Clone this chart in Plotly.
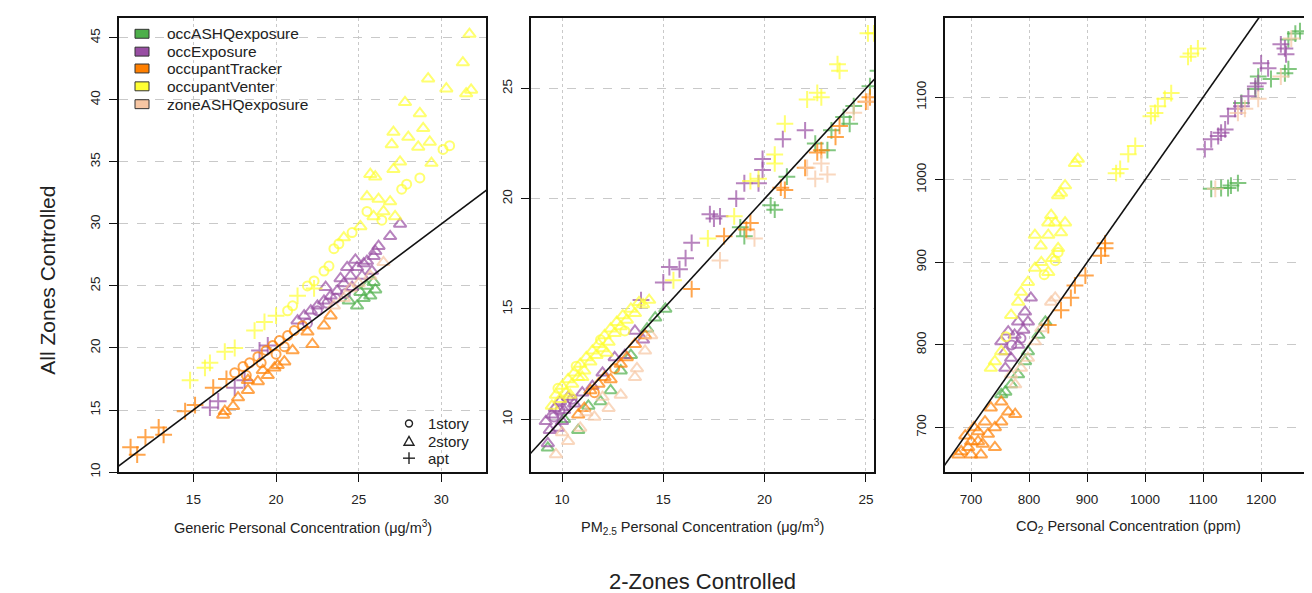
import plotly.graph_objects as go

# ---------------- DATA ----------------
series_names = ["occASHQexposure", "occExposure", "occupantTracker", "occupantVenter", "zoneASHQexposure"]
series_colors = ["#4DAF4A", "#984EA3", "#FF7F00", "#FFFF33", "#F7C6A3"]
shape_names = ["1story", "2story", "apt"]

x_titles = ["Generic Personal Concentration (\u03bcg/m<sup>3</sup>)",
            "PM<sub>2.5</sub> Personal Concentration (\u03bcg/m<sup>3</sup>)",
            "CO<sub>2</sub> Personal Concentration (ppm)"]
y_title = "All Zones Controlled"
x_super_title = "2-Zones Controlled"

gen_xticks = [15, 20, 25, 30]
gen_yticks = [10, 15, 20, 25, 30, 35, 40, 45]
pm_xticks = [10, 15, 20, 25]
pm_yticks = [10, 15, 20, 25]
co2_xticks = [700, 800, 900, 1000, 1100, 1200]
co2_yticks = [700, 800, 900, 1000, 1100]

# Generic panel  (c = 1story, t = 2story, p = apt)
gen_occashq_x = [25.5, 25.1, 25.3, 24.9, 25.9, 24.4, 25.7, 26.0]
gen_occashq_y = [25.0, 24.5, 24.0, 23.4, 25.3, 23.8, 24.2, 24.7]
gen_occashq_s = ["t"] * 8

gen_occexp_x = [27.5, 26.9, 26.2, 25.9, 25.5, 25.3, 24.9, 24.5, 24.1, 23.7, 23.3, 22.9, 22.5, 22.1, 21.7, 21.3,
                24.3, 25.2, 24.6, 25.8, 26.0, 23.9, 24.8, 23.0,
                21.9, 22.5, 23.1, 23.6, 24.2,
                19.5, 17.5, 16.5, 16.0, 18.1, 19.0]
gen_occexp_y = [30.0, 29.0, 28.2, 27.4, 27.0, 26.8, 26.5, 25.8, 25.2, 24.6, 24.2, 23.8, 23.4, 23.0, 22.6, 22.2,
                26.5, 25.8, 24.9, 26.2, 27.8, 25.6, 27.1, 24.9,
                22.0, 23.0, 23.6, 24.0, 24.4,
                20.2, 16.8, 15.7, 15.2, 17.4, 19.8]
gen_occexp_s = ["t"] * 24 + ["c"] * 5 + ["p"] * 6

gen_tracker_x = [11.2, 11.6, 12.1, 12.9, 13.2, 14.5, 15.1, 16.2, 17.0,
                 16.8, 17.7, 18.3, 18.9, 19.5, 19.9, 20.5, 21.9, 22.9, 23.3, 18.3, 19.2, 20.1, 21.0, 22.2, 17.4, 16.9,
                 17.5, 18.0, 18.4, 18.9, 19.4, 19.8, 20.2, 20.7, 21.1, 21.6, 18.2, 19.1, 20.0, 20.5]
gen_tracker_y = [12.0, 11.4, 12.8, 13.6, 13.0, 14.9, 15.4, 16.8, 17.5,
                 14.6, 16.0, 16.6, 17.3, 17.8, 18.4, 18.9, 21.3, 21.8, 22.6, 17.4, 18.2, 18.6, 19.8, 20.3, 15.3, 14.9,
                 18.0, 18.5, 18.8, 19.3, 19.8, 20.2, 20.6, 21.0, 21.4, 21.8, 17.8, 18.8, 19.5, 20.1]
gen_tracker_s = ["p"] * 9 + ["t"] * 17 + ["c"] * 14

gen_venter_x = [31.7, 31.3, 29.2, 30.3, 31.5, 31.8, 27.8, 28.7, 28.9, 27.1, 27.0, 28.6, 29.3, 29.4, 25.7, 27.1,
                25.5, 26.2, 26.9, 25.9, 26.5, 27.2, 25.1, 24.1, 28.0, 26.0, 27.5,
                30.1, 30.5, 28.7, 27.6, 27.9, 23.5, 23.8, 22.9, 23.2, 21.9, 22.3, 20.7, 21.0, 25.5, 26.4, 24.6,
                21.3, 19.3, 18.7, 17.5, 16.9, 16.0, 15.7, 14.8, 20.0, 22.3]
gen_venter_y = [45.3, 43.0, 41.7, 40.9, 40.5, 40.8, 39.8, 38.9, 37.7, 37.4, 36.4, 36.2, 36.6, 34.9, 34.0, 34.4,
                32.2, 32.0, 31.8, 30.6, 31.0, 30.6, 29.8, 28.9, 37.0, 33.8, 35.0,
                36.0, 36.3, 33.7, 32.8, 33.2, 28.0, 28.4, 26.2, 26.6, 25.0, 25.4, 23.0, 23.4, 31.0, 30.3, 29.3,
                24.2, 22.1, 21.4, 20.0, 19.7, 18.8, 18.4, 17.4, 22.6, 24.8]
gen_venter_s = ["t"] * 27 + ["c"] * 16 + ["p"] * 10

gen_zoneashq_x = [26.5, 25.7, 24.5, 24.1, 25.0, 23.5]
gen_zoneashq_y = [26.9, 25.8, 24.8, 24.0, 25.2, 23.4]
gen_zoneashq_s = ["t"] * 6

# PM2.5 panel
pm_occashq_x = [25.2, 24.4, 24.2, 23.9, 23.3, 22.5, 23.1, 21.1, 20.3, 20.5, 18.8, 19.0, 25.6,
                15.1, 14.6, 14.2, 12.4, 11.9, 10.8, 9.3, 13.4, 10.1, 12.9, 11.3]
pm_occashq_y = [25.1, 24.2, 23.4, 23.7, 23.1, 22.5, 22.2, 21.0, 19.7, 19.5, 18.7, 18.3, 25.8,
                15.0, 14.6, 14.1, 11.3, 10.8, 9.5, 8.7, 12.9, 10.0, 12.2, 10.6]
pm_occashq_s = ["p"] * 13 + ["t"] * 11

pm_occexp_x = [22.0, 20.9, 19.9, 19.9, 19.0, 19.7, 18.6, 17.3, 17.5, 17.8, 16.4, 16.1, 15.3, 15.8, 15.0, 13.9,
               9.2, 9.65, 10.1, 9.8, 9.3, 10.6, 12.6, 13.1, 13.6, 14.0, 9.5, 9.9, 10.3, 9.4, 10.0, 11.0, 11.5, 12.0,
               9.6, 9.9, 10.2, 10.5]
pm_occexp_y = [23.1, 22.7, 21.8, 21.3, 20.7, 20.7, 20.0, 19.3, 19.1, 19.2, 18.0, 17.3, 16.9, 16.8, 16.2, 15.4,
               9.9, 10.5, 10.4, 9.6, 8.9, 10.7, 12.8, 12.9, 14.0, 13.6, 10.2, 10.8, 11.0, 9.5, 9.9, 11.2, 11.5, 12.1,
               10.1, 10.4, 10.6, 10.9]
pm_occexp_s = ["p"] * 16 + ["t"] * 18 + ["c"] * 4

pm_tracker_x = [23.7, 23.5, 22.8, 22.6, 22.0, 20.8, 21.0, 19.3, 19.1, 25.2, 25.0, 16.4, 18.0,
                11.1, 11.8, 12.1, 12.9, 13.6, 14.1, 10.8, 11.4, 12.4, 13.2,
                11.6, 12.6]
pm_tracker_y = [23.3, 22.8, 22.2, 22.1, 21.4, 20.5, 20.4, 18.9, 18.6, 24.6, 24.4, 15.9, 18.3,
                10.5, 11.6, 11.9, 12.5, 13.4, 13.8, 10.2, 11.3, 11.8, 12.8,
                11.2, 12.3]
pm_tracker_s = ["p"] * 13 + ["t"] * 10 + ["c"] * 2

pm_venter_x = [25.1, 25.4, 23.6, 23.7, 22.6, 22.1, 22.8, 21.0, 20.5, 20.5, 19.7, 19.3, 18.5, 17.2, 15.5,
               9.5, 9.7, 9.9, 10.0, 10.2, 10.3, 10.5, 10.6, 10.8, 10.9, 11.1, 11.2, 11.4, 11.5, 11.7, 11.8,
               12.0, 12.1, 12.3, 12.4, 12.6, 12.7, 12.9, 13.0, 13.2, 13.4, 13.6, 13.8, 14.0, 14.3, 11.0, 12.2, 10.4,
               9.8, 10.7, 11.9, 13.1]
pm_venter_y = [27.5, 27.5, 26.1, 25.8, 24.8, 24.5, 24.6, 23.4, 22.0, 21.6, 20.9, 20.8, 19.2, 18.2, 16.3,
               10.6, 11.1, 10.9, 11.5, 11.2, 11.8, 11.6, 12.1, 11.9, 12.5, 12.2, 12.8, 12.6, 13.1, 12.9, 13.4,
               13.2, 13.8, 13.5, 14.1, 13.9, 14.4, 14.2, 14.7, 14.5, 15.0, 14.8, 15.3, 15.2, 15.4, 11.9, 13.0, 11.1,
               11.4, 12.4, 13.6, 14.0]
pm_venter_s = ["p"] * 15 + ["t"] * 33 + ["c"] * 4

pm_zoneashq_x = [25.1, 24.4, 22.8, 22.5, 23.1, 22.1, 19.5, 17.8,
                 9.7, 10.3, 10.9, 11.6, 12.3, 12.9, 13.6, 13.7, 14.1, 14.4, 10.0, 11.2, 12.0]
pm_zoneashq_y = [24.4, 23.9, 21.6, 20.9, 21.1, 21.4, 18.2, 17.2,
                 8.4, 9.0, 9.6, 10.1, 10.5, 11.1, 11.9, 12.3, 13.1, 13.8, 9.4, 10.3, 11.0]
pm_zoneashq_s = ["p"] * 8 + ["t"] * 13

# CO2 panel
co2_occashq_x = [1259, 1267, 1247, 1247, 1241, 1217, 1195, 1190, 1166, 1114, 1131, 1148, 1160, 1143,
                 759, 769, 752, 781, 793, 798, 816, 828]
co2_occashq_y = [1177, 1180, 1170, 1134, 1129, 1122, 1125, 1110, 1093, 989, 990, 993, 996, 990,
                 743, 752, 740, 764, 780, 792, 812, 828]
co2_occashq_s = ["p"] * 14 + ["t"] * 8

co2_occexp_x = [803, 793, 781, 764, 752, 759, 769, 759, 781, 798, 775, 790,
                770, 786,
                1103, 1114, 1126, 1138, 1131, 1143, 1155, 1166, 1178, 1190, 1195, 1200, 1212, 1234, 1243, 1241]
co2_occexp_y = [857, 840, 828, 816, 804, 792, 784, 772, 800, 828, 812, 818,
                800, 808,
                1037, 1049, 1053, 1061, 1057, 1077, 1086, 1089, 1101, 1113, 1117, 1141, 1135, 1164, 1152, 1159]
co2_occexp_s = ["t"] * 12 + ["c"] * 2 + ["p"] * 16

co2_tracker_x = [931, 931, 924, 897, 879, 872, 855, 833,
                 683, 700, 712, 729, 741, 752, 764, 776, 724, 712, 700, 741, 695, 734, 752, 717, 678, 690, 705, 720]
co2_tracker_y = [923, 917, 908, 884, 872, 857, 842, 824,
                 671, 667, 683, 692, 700, 707, 719, 716, 707, 695, 683, 676, 676, 724, 731, 667, 667, 690, 700, 680]
co2_tracker_s = ["p"] * 8 + ["t"] * 20

co2_venter_x = [1079, 1091, 1074, 1045, 1034, 1022, 1010, 1017, 983, 971, 957, 950,
                884, 879, 862, 855, 850, 838, 833, 845, 862, 855, 810, 833, 850, 821, 810, 833, 798, 786, 781,
                769, 752, 741, 734, 820, 840,
                850, 845, 826, 760]
co2_venter_y = [1153, 1159, 1149, 1105, 1098, 1089, 1077, 1081, 1041, 1031, 1013, 1008,
                1025, 1020, 993, 984, 981, 957, 948, 948, 948, 936, 933, 933, 917, 900, 893, 888, 876, 864, 852,
                836, 792, 780, 772, 920, 905,
                912, 902, 885, 810]
co2_venter_s = ["p"] * 12 + ["t"] * 25 + ["c"] * 4

co2_zoneashq_x = [1252, 1234, 1195, 1172, 1160, 1121,
                  769, 786, 798, 810, 821, 838, 845, 776]
co2_zoneashq_y = [1171, 1125, 1098, 1086, 1081, 989,
                  764, 772, 784, 804, 820, 852, 857, 752]
co2_zoneashq_s = ["p"] * 6 + ["t"] * 8

# ---------------- FIGURE ----------------
W, H = 1312, 593


def px(v):
    return v / W


def py(v):
    return 1 - v / H


sym_map = {"c": "circle-open", "t": "triangle-up-open", "p": "cross-thin-open"}
size_map = {"c": 9, "t": 11, "p": 12}

panels = [
    {"data": [(gen_occashq_x, gen_occashq_y, gen_occashq_s), (gen_occexp_x, gen_occexp_y, gen_occexp_s),
              (gen_tracker_x, gen_tracker_y, gen_tracker_s), (gen_venter_x, gen_venter_y, gen_venter_s),
              (gen_zoneashq_x, gen_zoneashq_y, gen_zoneashq_s)],
     "xdom": (111, 478), "xr": [10.5, 32.7], "yr": [10.0, 46.6], "xt": gen_xticks, "yt": gen_yticks},
    {"data": [(pm_occashq_x, pm_occashq_y, pm_occashq_s), (pm_occexp_x, pm_occexp_y, pm_occexp_s),
              (pm_tracker_x, pm_tracker_y, pm_tracker_s), (pm_venter_x, pm_venter_y, pm_venter_s),
              (pm_zoneashq_x, pm_zoneashq_y, pm_zoneashq_s)],
     "xdom": (523, 866), "xr": [8.47, 25.4], "yr": [7.6, 28.2], "xt": pm_xticks, "yt": pm_yticks},
    {"data": [(co2_occashq_x, co2_occashq_y, co2_occashq_s), (co2_occexp_x, co2_occexp_y, co2_occexp_s),
              (co2_tracker_x, co2_tracker_y, co2_tracker_s), (co2_venter_x, co2_venter_y, co2_venter_s),
              (co2_zoneashq_x, co2_zoneashq_y, co2_zoneashq_s)],
     "xdom": (937, 1303), "xr": [655, 1286], "yr": [646, 1196], "xt": co2_xticks, "yt": co2_yticks},
]

draw_order = [0, 1, 2, 4, 3]

fig = go.Figure()
layout = {}
tickfont = dict(family="Liberation Sans, Arial, sans-serif", size=13.5, color="#222")
for i, p in enumerate(panels):
    ax = "" if i == 0 else str(i + 1)
    for k in draw_order:
        xs, ys, ss = p["data"][k]
        fig.add_trace(go.Scatter(
            x=xs, y=ys, mode="markers", name=series_names[k], showlegend=False,
            xaxis="x" + ax, yaxis="y" + ax,
            marker=dict(symbol=[sym_map[s] for s in ss], size=[size_map[s] for s in ss],
                        color=series_colors[k], line=dict(color=series_colors[k], width=2)),
            hoverinfo="x+y+name"))
    lo = min(p["xr"][0], p["yr"][0])
    hi = max(p["xr"][1], p["yr"][1])
    fig.add_trace(go.Scatter(x=[lo, hi], y=[lo, hi], mode="lines", showlegend=False,
                             xaxis="x" + ax, yaxis="y" + ax,
                             line=dict(color="#111", width=1.6), hoverinfo="skip"))
    layout["xaxis" + ax] = dict(
        domain=[px(p["xdom"][0]), px(p["xdom"][1])], range=p["xr"], anchor="y" + ax,
        tickvals=p["xt"], showgrid=True, gridcolor="#c9c9c9", griddash="dot", gridwidth=1,
        showline=True, mirror=True, linecolor="#111", linewidth=1.6, zeroline=False,
        ticks="outside", ticklen=8, tickwidth=1.4, tickcolor="#111", tickfont=tickfont,
        ticklabelstandoff=6)
    layout["yaxis" + ax] = dict(
        domain=[py(468), py(10)], range=p["yr"], anchor="x" + ax,
        tickvals=p["yt"], showgrid=True, gridcolor="#c9c9c9", griddash="dash", gridwidth=1,
        showline=True, mirror=True, linecolor="#111", linewidth=1.6, zeroline=False,
        ticks="outside", ticklen=8, tickwidth=1.4, tickcolor="#111", tickfont=tickfont,
        tickangle=-90, ticklabelstandoff=4)

annotations = []
title_centers = [295, 694, 1120]
for t, cx in zip(x_titles, title_centers):
    annotations.append(dict(text=t, x=px(cx), y=py(523), xref="paper", yref="paper", showarrow=False,
                            xanchor="center", yanchor="middle",
                            font=dict(family="Liberation Sans, Arial, sans-serif", size=14.5, color="#222")))
annotations.append(dict(text=y_title, x=px(40), y=py(275), xref="paper", yref="paper", showarrow=False,
                        textangle=-90, xanchor="center", yanchor="middle",
                        font=dict(family="Liberation Sans, Arial, sans-serif", size=21, color="#222")))
annotations.append(dict(text=x_super_title, x=px(694), y=py(578), xref="paper", yref="paper", showarrow=False,
                        xanchor="center", yanchor="middle",
                        font=dict(family="Liberation Sans, Arial, sans-serif", size=22, color="#222")))

shapes = []
# series legend (top-left of first panel)
leg_rows = [26, 44, 61, 79, 97]
for name, col, yy in zip(series_names, series_colors, leg_rows):
    shapes.append(dict(type="rect", xref="paper", yref="paper",
                       x0=px(127), x1=px(141), y0=py(yy + 4.5), y1=py(yy - 4.5),
                       fillcolor=col, line=dict(color="#333", width=1)))
    annotations.append(dict(text=name, x=px(157), y=py(yy), xref="paper", yref="paper", showarrow=False,
                            xanchor="left", yanchor="middle",
                            font=dict(family="Liberation Sans, Arial, sans-serif", size=15.5, color="#222")))

# building-type legend (bottom-right of first panel)
shp_rows = [419, 437, 454]
cx0 = 401
shapes.append(dict(type="circle", xref="paper", yref="paper", x0=px(cx0 - 3.5), x1=px(cx0 + 3.5),
                   y0=py(shp_rows[0] + 3.5), y1=py(shp_rows[0] - 3.5), line=dict(color="#222", width=1.4)))
tri = "M {} {} L {} {} L {} {} Z".format(px(cx0 - 5), py(shp_rows[1] + 4), px(cx0 + 5), py(shp_rows[1] + 4),
                                         px(cx0), py(shp_rows[1] - 5))
shapes.append(dict(type="path", xref="paper", yref="paper", path=tri, line=dict(color="#222", width=1.4)))
shapes.append(dict(type="line", xref="paper", yref="paper", x0=px(cx0 - 6), x1=px(cx0 + 6),
                   y0=py(shp_rows[2]), y1=py(shp_rows[2]), line=dict(color="#222", width=1.4)))
shapes.append(dict(type="line", xref="paper", yref="paper", x0=px(cx0), x1=px(cx0),
                   y0=py(shp_rows[2] - 6), y1=py(shp_rows[2] + 6), line=dict(color="#222", width=1.4)))
for name, yy in zip(shape_names, shp_rows):
    annotations.append(dict(text=name, x=px(418), y=py(yy), xref="paper", yref="paper", showarrow=False,
                            xanchor="left", yanchor="middle",
                            font=dict(family="Liberation Sans, Arial, sans-serif", size=15, color="#222")))

fig.update_layout(width=W, height=H, autosize=False, margin=dict(l=0, r=0, t=0, b=0),
                  paper_bgcolor="white", plot_bgcolor="white", showlegend=False,
                  annotations=annotations, shapes=shapes, **layout)

fig.write_html("out.html")
